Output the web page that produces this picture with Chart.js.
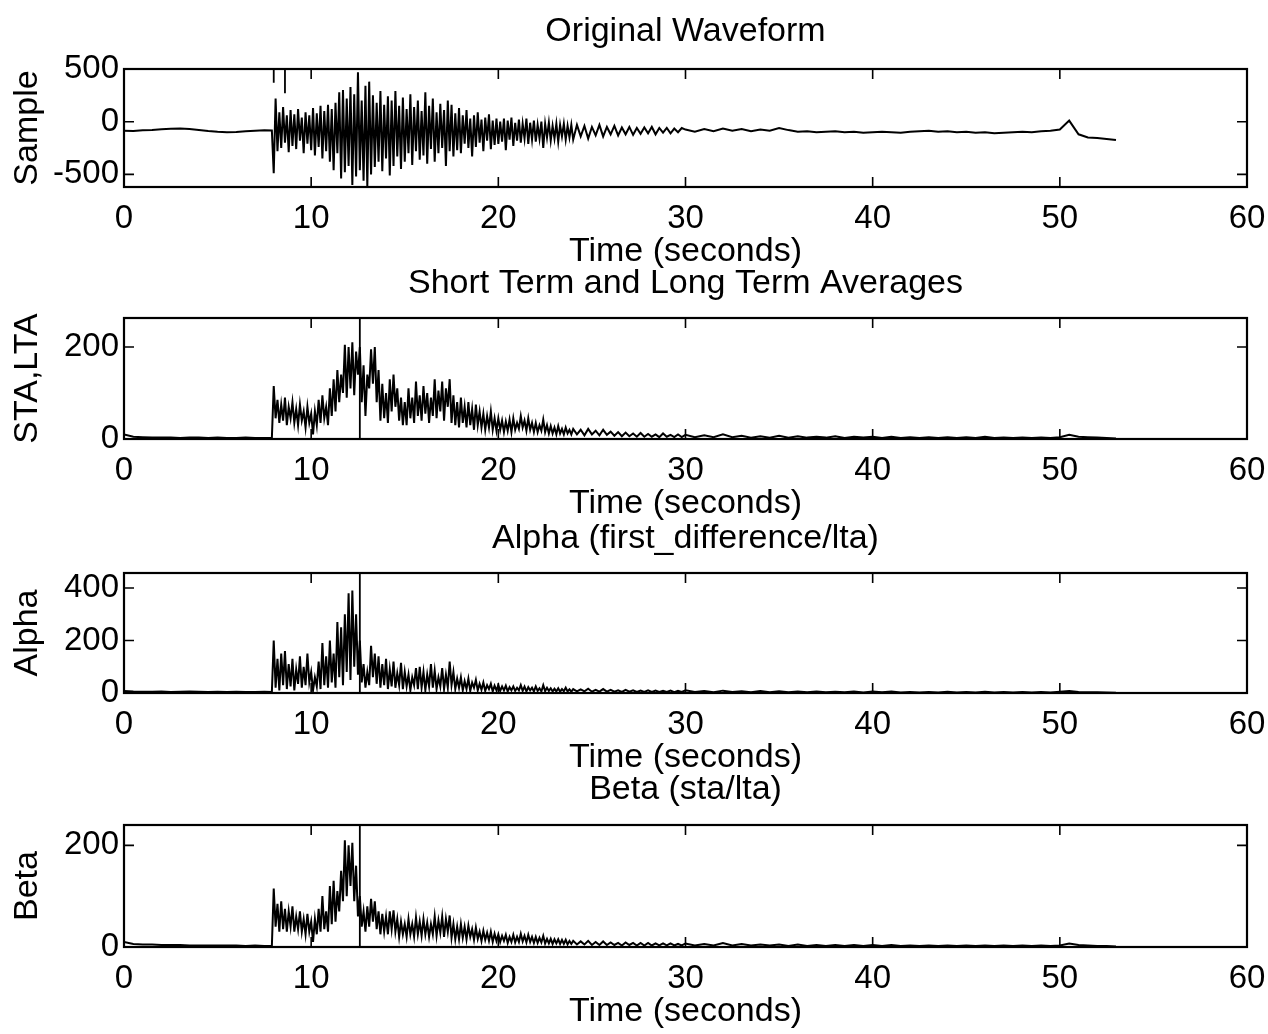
<!DOCTYPE html>
<html>
<head>
<meta charset="utf-8">
<title>Original Waveform - STA/LTA</title>
<script src="https://cdn.jsdelivr.net/npm/chart.js@4.4.1/dist/chart.umd.min.js"></script>
<style>
    html, body { margin: 0; padding: 0; background: #fff; }
    body { width: 1268px; height: 1034px; position: relative; overflow: hidden; }
    canvas { position: absolute; left: 0; }
</style>
</head>
<body>
<canvas id="wave-chart"></canvas>
<canvas id="sta-chart"></canvas>
<canvas id="alpha-chart"></canvas>
<canvas id="beta-chart"></canvas>
<script>
// Time axis shared by all four traces (seconds)
const timeSec = [
    0, 0.5, 1, 1.5, 2, 2.5, 3, 3.5, 4, 4.5,
    5, 5.5, 6, 6.5, 7, 7.5, 7.9,
    8, 8.1, 8.2, 8.3, 8.4, 8.5, 8.6, 8.7, 8.8, 8.9,
    9, 9.1, 9.2, 9.3, 9.4, 9.5, 9.6, 9.7, 9.8, 9.9,
    10, 10.1, 10.2, 10.3, 10.4, 10.5, 10.6, 10.7, 10.8, 10.9,
    11, 11.1, 11.2, 11.3, 11.4, 11.5, 11.6, 11.7, 11.8, 11.9,
    12, 12.1, 12.2, 12.3, 12.4, 12.5, 12.6, 12.7, 12.8, 12.9,
    13, 13.1, 13.2, 13.3, 13.4, 13.5, 13.6, 13.7, 13.8, 13.9,
    14, 14.1, 14.2, 14.3, 14.4, 14.5, 14.6, 14.7, 14.8, 14.9,
    15, 15.1, 15.2, 15.3, 15.4, 15.5, 15.6, 15.7, 15.8, 15.9,
    16, 16.1, 16.2, 16.3, 16.4, 16.5, 16.6, 16.7, 16.8, 16.9,
    17, 17.1, 17.2, 17.3, 17.4, 17.5, 17.6, 17.7, 17.8, 17.9,
    18, 18.1, 18.2, 18.3, 18.4, 18.5, 18.6, 18.7, 18.8, 18.9,
    19, 19.1, 19.2, 19.3, 19.4, 19.5, 19.6, 19.7, 19.8, 19.9,
    20, 20.1, 20.2, 20.3, 20.4, 20.5, 20.6, 20.7, 20.8, 20.9,
    21, 21.1, 21.2, 21.3, 21.4, 21.5, 21.6, 21.7, 21.8, 21.9,
    22, 22.1, 22.2, 22.3, 22.4, 22.5, 22.6, 22.7, 22.8, 22.9,
    23, 23.1, 23.2, 23.3, 23.4, 23.5, 23.6, 23.7, 23.8, 23.9,
    24, 24.2, 24.4, 24.6, 24.8, 25, 25.2, 25.4, 25.6, 25.8,
    26, 26.2, 26.4, 26.6, 26.8, 27, 27.2, 27.4, 27.6, 27.8,
    28, 28.2, 28.4, 28.6, 28.8, 29, 29.2, 29.4, 29.6, 29.8,
    30, 30.5, 31, 31.5, 32, 32.5, 33, 33.5, 34, 34.5,
    35, 35.5, 36, 36.5, 37, 37.5, 38, 38.5, 39, 39.5,
    40, 40.5, 41, 41.5, 42, 42.5, 43, 43.5, 44, 44.5,
    45, 45.5, 46, 46.5, 47, 47.5, 48, 48.5, 49, 49.5,
    50, 50.5, 51, 51.5, 52, 52.5, 53
];

// Original waveform samples
const waveSample = [
    -85, -88, -82, -78, -72, -68, -65, -70, -78, -88,
    -95, -100, -98, -90, -85, -82, -84,
    -490, 220, -280, 90, -250, 140, -200, 60, -290, 110,
    -230, 70, -260, 120, -180, 40, -300, 90, -210, 60,
    -270, 130, -320, 80, -240, 150, -350, 100, -280, 160,
    -380, 120, -460, 180, -300, 280, -540, 300, -480, 220,
    -420, 330, -600, 260, -520, 470, -460, 200, -560, 340,
    -615, 380, -500, 250, -430, 180, -380, 290, -470, 160,
    -350, 240, -510, 200, -420, 290, -330, 150, -450, 230,
    -380, 120, -300, 260, -410, 140, -280, 200, -360, 100,
    -320, 280, -400, 150, -260, 220, -380, 90, -300, 170,
    -250, 110, -420, 200, -280, 160, -330, 80, -270, 130,
    -300, 60, -210, 110, -250, 30, -330, 60, -240, 90,
    -200, 20, -280, 40, -180, 70, -260, 10, -220, 30,
    -210, 0, -190, 30, -270, 10, -170, 40, -230, -10,
    -180, 20, -200, -20, -160, 30, -210, -10, -170, 10,
    -190, -30, -160, 0, -250, -20, -150, -10, -180, -40,
    -160, -20, -190, -30, -140, -20, -170, -40, -150, -30,
    -170, -30, -140, -40, -160, -50, -130, -30, -140, -50,
    -120, -40, -130, -55, -120, -50, -125, -60, -115, -55,
    -110, -50, -120, -60, -105, -60, -110, -65, -100, -60,
    -75, -95, -70, -90, -65, -85, -70, -90, -75, -85,
    -60, -80, -95, -90, -100, -95, -90, -100, -95, -105,
    -100, -95, -100, -105, -95, -90, -85, -95, -90, -100,
    -95, -105, -100, -110, -105, -100, -95, -100, -90, -85,
    -75, 10, -120, -150, -155, -165, -175
];

// Short term / long term averages
const staLta = [
    10, 5, 4, 3, 3, 3, 2, 3, 3, 2,
    3, 2, 2, 3, 2, 2, 2,
    115, 45, 85, 35, 75, 40, 90, 30, 70, 45,
    80, 35, 65, 30, 75, 40, 60, 25, 70, 35,
    55, 10, 60, 30, 85, 35, 95, 45, 70, 30,
    110, 50, 130, 60, 150, 80, 140, 100, 205, 90,
    200, 110, 210, 95, 190, 140, 200, 80, 160, 50,
    140, 110, 195, 120, 200, 80, 150, 40, 120, 45,
    100, 35, 130, 60, 140, 70, 110, 40, 90, 30,
    80, 30, 110, 45, 90, 35, 125, 50, 95, 40,
    115, 55, 100, 35, 90, 50, 130, 45, 105, 60,
    125, 40, 110, 70, 130, 35, 95, 30, 80, 25,
    90, 35, 70, 25, 80, 30, 65, 20, 75, 30,
    60, 25, 55, 20, 50, 25, 60, 20, 45, 18,
    45, 20, 40, 15, 38, 18, 42, 15, 45, 20,
    35, 22, 50, 25, 40, 18, 45, 20, 35, 15,
    35, 15, 30, 18, 42, 15, 30, 12, 28, 12,
    25, 10, 28, 12, 22, 10, 25, 12, 20, 10,
    22, 10, 20, 8, 22, 10, 18, 8, 20, 9,
    16, 7, 15, 6, 14, 6, 12, 5, 13, 5,
    11, 5, 10, 4, 12, 5, 9, 4, 10, 4,
    9, 4, 8, 4, 10, 4, 7, 3, 6, 3,
    7, 3, 6, 3, 5, 3, 6, 2, 5, 3,
    5, 2, 5, 2, 4, 2, 4, 2, 4, 2,
    4, 2, 5, 2, 3, 2, 3, 2, 3, 2,
    4, 9, 5, 4, 3, 2, 1
];

// Alpha (first_difference/lta)
const alphaVal = [
    8, 6, 5, 5, 6, 4, 5, 6, 5, 4,
    5, 4, 5, 4, 4, 5, 4,
    200, 20, 130, 10, 150, 30, 160, 15, 110, 25,
    130, 10, 90, 35, 140, 20, 100, 30, 150, 40,
    80, 10, 60, 25, 120, 15, 190, 30, 140, 20,
    200, 40, 150, 20, 270, 60, 250, 30, 300, 80,
    380, 50, 390, 100, 300, 70, 200, 40, 110, 20,
    80, 30, 180, 60, 150, 35, 140, 20, 110, 30,
    130, 15, 90, 25, 120, 20, 75, 30, 115, 15,
    80, 25, 70, 10, 60, 30, 95, 15, 100, 20,
    80, 10, 70, 25, 110, 20, 85, 15, 60, 25,
    95, 15, 70, 20, 120, 30, 80, 15, 55, 20,
    60, 10, 45, 15, 55, 8, 40, 20, 50, 10,
    35, 12, 40, 8, 30, 15, 35, 6, 28, 10,
    30, 8, 25, 10, 28, 6, 22, 10, 25, 8,
    20, 10, 30, 8, 24, 6, 22, 10, 20, 6,
    25, 8, 18, 6, 30, 7, 20, 8, 18, 6,
    16, 6, 18, 5, 15, 7, 20, 6, 14, 5,
    15, 6, 14, 6, 16, 5, 12, 5, 15, 5,
    12, 5, 10, 4, 12, 5, 10, 4, 9, 4,
    10, 4, 9, 4, 8, 4, 9, 3, 8, 4,
    10, 4, 8, 3, 9, 4, 7, 3, 8, 3,
    7, 3, 6, 3, 6, 3, 5, 3, 6, 2,
    6, 3, 6, 2, 4, 2, 4, 2, 5, 2,
    4, 2, 5, 2, 4, 2, 4, 2, 4, 2,
    5, 8, 4, 3, 3, 2, 1
];

// Beta (sta/lta)
const betaVal = [
    10, 6, 5, 5, 4, 4, 4, 3, 3, 3,
    3, 3, 3, 2, 3, 2, 2,
    115, 40, 85, 30, 90, 35, 75, 30, 70, 40,
    80, 30, 60, 35, 70, 30, 55, 25, 65, 30,
    50, 10, 55, 25, 75, 30, 100, 35, 70, 30,
    120, 45, 130, 50, 110, 70, 150, 90, 210, 100,
    200, 120, 205, 90, 160, 60, 100, 40, 70, 30,
    80, 40, 95, 50, 90, 35, 70, 25, 65, 30,
    60, 25, 70, 35, 72, 30, 55, 20, 50, 25,
    45, 20, 55, 25, 45, 20, 58, 25, 50, 22,
    55, 25, 48, 20, 45, 25, 60, 22, 52, 28,
    60, 20, 55, 30, 62, 18, 45, 15, 40, 15,
    45, 18, 40, 15, 42, 20, 35, 14, 38, 16,
    30, 12, 32, 14, 28, 12, 30, 10, 26, 12,
    25, 10, 22, 12, 24, 8, 20, 10, 24, 9,
    20, 10, 26, 11, 22, 9, 24, 10, 20, 8,
    20, 8, 18, 9, 22, 7, 16, 7, 16, 6,
    15, 7, 15, 6, 14, 6, 14, 5, 12, 6,
    12, 5, 11, 5, 12, 4, 10, 4, 11, 4,
    9, 4, 8, 3, 9, 4, 8, 3, 8, 3,
    8, 3, 7, 3, 7, 3, 7, 3, 6, 3,
    7, 3, 6, 3, 8, 3, 6, 3, 5, 3,
    5, 2, 5, 2, 4, 2, 4, 2, 4, 2,
    4, 2, 4, 2, 3, 2, 3, 2, 3, 2,
    3, 2, 3, 2, 3, 2, 3, 2, 3, 2,
    3, 7, 4, 3, 2, 2, 1
];

// Pick markers drawn on top of the traces
const waveMarkT = [8, 8, 8.6, 8.6, 8.6, 9.2];
const waveMarkV = [370, 500, 500, 270, 500, 500];
const pickT = [12.6, 12.6];

// Axis limits and tick labels
const xTicks = [0, 10, 20, 30, 40, 50, 60];
const waveTicks = [-500, 0, 500];
const staTicks = [0, 200];
const alphaTicks = [0, 200, 400];
const betaTicks = [0, 200];

const FONT = 'Liberation Sans, Arial, Helvetica, sans-serif';
const TEXT_SIZE = 34;
const TICK_SIZE = 33;
const PLOT_LEFT = 124;
const PLOT_RIGHT = 1247;
const TICK_LEN = 10;

// MATLAB-ish box with inward ticks on all four sides
const matlabFrame = {
    id: 'matlabFrame',
    afterDatasetsDraw(chart) {
        const { ctx, chartArea: a, scales: { x, y } } = chart;
        ctx.save();
        ctx.strokeStyle = '#000';
        ctx.lineWidth = 1.6;
        ctx.beginPath();
        x.ticks.forEach(t => {
            const px = x.getPixelForValue(t.value);
            if (px <= a.left + 1 || px >= a.right - 1) return;
            ctx.moveTo(px, a.bottom); ctx.lineTo(px, a.bottom - TICK_LEN);
            ctx.moveTo(px, a.top); ctx.lineTo(px, a.top + TICK_LEN);
        });
        y.ticks.forEach(t => {
            const py = y.getPixelForValue(t.value);
            if (py <= a.top + 1 || py >= a.bottom - 1) return;
            ctx.moveTo(a.left, py); ctx.lineTo(a.left + TICK_LEN, py);
            ctx.moveTo(a.right, py); ctx.lineTo(a.right - TICK_LEN, py);
        });
        ctx.stroke();
        ctx.lineWidth = 2.2;
        ctx.strokeRect(a.left, a.top, a.right - a.left, a.bottom - a.top);
        ctx.restore();
    }
};

function toPoints(xs, ys) {
    return xs.map((t, i) => ({ x: t, y: ys[i] }));
}

function makePanel(id, box, cfg) {
    const canvas = document.getElementById(id);
    const lh = TEXT_SIZE * 1.2;
    const top = Math.floor(box.titleY - lh / 2 - 4);
    const height = Math.ceil(box.xTitleY + lh / 2 + 2) - top;
    canvas.width = 1268;
    canvas.height = height;
    canvas.style.top = top + 'px';

    if (cfg.values.length !== timeSec.length) {
        console.warn(id, 'length mismatch', cfg.values.length, timeSec.length);
    }

    const textFont = { family: FONT, size: TEXT_SIZE, weight: 'normal' };
    const tickFont = { family: FONT, size: TICK_SIZE, weight: 'normal' };

    return new Chart(canvas, {
        type: 'line',
        data: {
            datasets: [{
                data: toPoints(timeSec, cfg.values),
                borderColor: '#000',
                borderWidth: 2,
                pointRadius: 0,
                tension: 0
            }, {
                data: toPoints(cfg.markT, cfg.markV),
                borderColor: '#000',
                borderWidth: 1.8,
                pointRadius: 0,
                tension: 0
            }]
        },
        options: {
            responsive: false,
            animation: false,
            events: [],
            layout: { padding: { left: 0, right: 1268 - PLOT_RIGHT, top: 0, bottom: 0 } },
            plugins: {
                legend: { display: false },
                tooltip: { enabled: false },
                title: {
                    display: true,
                    fullSize: false,
                    text: cfg.title,
                    color: '#000',
                    font: textFont,
                    padding: {
                        top: box.titleY - lh / 2 - top,
                        bottom: box.areaTop - box.titleY - lh / 2
                    }
                }
            },
            scales: {
                x: {
                    type: 'linear',
                    min: 0,
                    max: 60,
                    grid: { display: false },
                    border: { display: false },
                    ticks: { color: '#000', font: tickFont, padding: 4, maxRotation: 0, autoSkip: false },
                    afterBuildTicks: s => { s.ticks = xTicks.map(v => ({ value: v })); },
                    afterFit: s => {
                        s.height = top + height - box.areaBottom;
                        s.paddingLeft = 0;
                        s.paddingRight = 0;
                    },
                    title: {
                        display: true,
                        text: 'Time (seconds)',
                        color: '#000',
                        font: textFont,
                        padding: { top: 0, bottom: top + height - lh / 2 - box.xTitleY }
                    }
                },
                y: {
                    type: 'linear',
                    min: cfg.yMin,
                    max: cfg.yMax,
                    grid: { display: false },
                    border: { display: false },
                    ticks: { color: '#000', font: tickFont, padding: -3 },
                    afterBuildTicks: s => { s.ticks = cfg.yTicks.map(v => ({ value: v })); },
                    afterFit: s => { s.width = PLOT_LEFT; },
                    title: {
                        display: true,
                        text: cfg.yLabel,
                        color: '#000',
                        font: textFont,
                        padding: { top: 28 - lh / 2, bottom: 0 }
                    }
                }
            }
        },
        plugins: [matlabFrame]
    });
}

makePanel('wave-chart',
    { titleY: 32, areaTop: 69, areaBottom: 187, xTitleY: 252 },
    { title: 'Original Waveform', yLabel: 'Sample', values: waveSample,
      yMin: -620, yMax: 500, yTicks: waveTicks, markT: waveMarkT, markV: waveMarkV });

makePanel('sta-chart',
    { titleY: 284, areaTop: 318, areaBottom: 439, xTitleY: 504 },
    { title: 'Short Term and Long Term Averages', yLabel: 'STA,LTA', values: staLta,
      yMin: 0, yMax: 263, yTicks: staTicks, markT: pickT, markV: [0, 263] });

makePanel('alpha-chart',
    { titleY: 539, areaTop: 573, areaBottom: 693, xTitleY: 758 },
    { title: 'Alpha (first_difference/lta)', yLabel: 'Alpha', values: alphaVal,
      yMin: 0, yMax: 457, yTicks: alphaTicks, markT: pickT, markV: [0, 457] });

makePanel('beta-chart',
    { titleY: 790, areaTop: 825, areaBottom: 947, xTitleY: 1012 },
    { title: 'Beta (sta/lta)', yLabel: 'Beta', values: betaVal,
      yMin: 0, yMax: 240, yTicks: betaTicks, markT: pickT, markV: [0, 240] });
</script>
</body>
</html>
